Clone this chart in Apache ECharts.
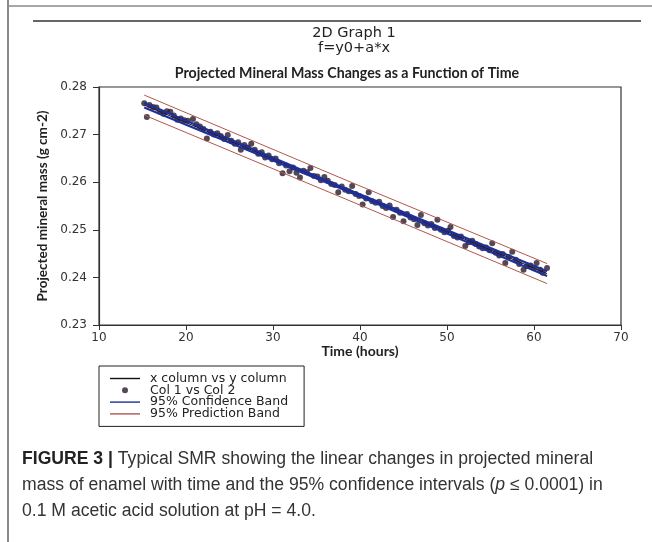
<!DOCTYPE html>
<html>
<head>
<meta charset="utf-8">
<script src="https://cdn.jsdelivr.net/npm/echarts@6/dist/echarts.min.js"></script>
<style>
  html, body { margin: 0; padding: 0; background: #fff; }
  #chart { width: 652px; height: 542px; }
</style>
</head>
<body>
<div id="chart"></div>
<script>
// measured points (time in hours, projected mineral mass g cm-2)
const timeHours = [
  15.2, 15.5, 15.8, 16.2, 16.6, 17.0, 17.4, 17.8, 18.2, 18.6, 19.0, 19.4, 19.8, 20.2, 20.8,
  21.2, 21.6, 22.0, 22.4, 22.8, 23.2, 23.6, 24.0, 24.4, 24.8, 25.2, 25.6, 26.0, 26.3, 26.7,
  27.1, 27.5, 27.9, 28.3, 28.7, 29.1, 29.5, 29.9, 30.3, 30.7, 31.1, 31.5, 31.9, 32.3, 32.7,
  33.1, 33.5, 33.9, 34.3, 34.7, 35.1, 35.5, 35.9, 36.3, 36.7, 37.1, 37.5, 37.9, 38.3, 38.7,
  39.1, 39.5, 39.9, 40.3, 40.7, 41.0, 41.4, 41.8, 42.2, 42.6, 43.0, 43.4, 43.8, 44.2, 44.6,
  45.0, 45.4, 45.8, 46.2, 46.6, 47.0, 47.4, 47.8, 48.2, 48.6, 48.9, 49.3, 49.7, 50.1, 50.4,
  50.8, 51.2, 51.6, 52.1, 52.5, 52.9, 53.3, 53.7, 54.1, 54.5, 54.9, 55.2, 55.6, 56.0, 56.4,
  56.7, 57.1, 57.5, 57.9, 58.3, 58.8, 59.2, 59.6, 60.0, 60.3, 60.7, 61.0, 61.5
];
const mineralMass = [
  0.2766, 0.2737, 0.2762, 0.2758, 0.2757, 0.2748, 0.2744, 0.2749, 0.2748, 0.2740, 0.2731, 0.2734, 0.2730, 0.2729, 0.2733,
  0.2722, 0.2717, 0.2712, 0.2692, 0.2706, 0.2700, 0.2703, 0.2697, 0.2691, 0.2699, 0.2687, 0.2681, 0.2684, 0.2668, 0.2678,
  0.2673, 0.2681, 0.2668, 0.2660, 0.2663, 0.2652, 0.2656, 0.2648, 0.2650, 0.2640, 0.2619, 0.2635, 0.2623, 0.2631, 0.2620,
  0.2610, 0.2624, 0.2621, 0.2630, 0.2613, 0.2612, 0.2604, 0.2611, 0.2603, 0.2596, 0.2594, 0.2579, 0.2591, 0.2584, 0.2581,
  0.2592, 0.2575, 0.2571, 0.2553, 0.2566, 0.2579, 0.2560, 0.2557, 0.2559, 0.2550, 0.2546, 0.2551, 0.2527, 0.2542, 0.2536,
  0.2518, 0.2533, 0.2526, 0.2522, 0.2510, 0.2531, 0.2514, 0.2509, 0.2512, 0.2504, 0.2521, 0.2500, 0.2495, 0.2498, 0.2506,
  0.2487, 0.2484, 0.2486, 0.2466, 0.2474, 0.2477, 0.2470, 0.2465, 0.2461, 0.2463, 0.2457, 0.2472, 0.2452, 0.2446, 0.2449,
  0.2430, 0.2443, 0.2454, 0.2437, 0.2428, 0.2416, 0.2424, 0.2425, 0.2419, 0.2430, 0.2416, 0.2410, 0.2420
];

// fitted line f=y0+a*x and bands, read at start / middle / end
const fitX = [15.2, 61.5];
const fitY = [0.2762, 0.2408];
const bandX = [15.2, 38.3, 61.5];
const confUpper = [0.2767, 0.2587, 0.2413];
const confLower = [0.2757, 0.2583, 0.2403];
const predUpper = [0.2783, 0.2605, 0.2429];
const predLower = [0.2741, 0.2565, 0.2387];

// axis ticks
const xTicks = [10, 20, 30, 40, 50, 60, 70];
const yTicks = [0.23, 0.24, 0.25, 0.26, 0.27, 0.28];

const pair = (xs, ys) => xs.map((x, i) => [x, ys[i]]);

const legendNames = ['x column vs y column', 'Col 1 vs Col 2', '95% Confidence Band', '95% Prediction Band'];
// thin bar used as legend icon for the line series
const lineIcon = 'path://M0,0 L30,0 L30,1.4 L0,1.4 Z';

const myChart = echarts.init(document.getElementById('chart'));

const bandLine = (name, data, color, width, z) => ({
  name: name,
  type: 'line',
  data: data,
  symbol: 'none',
  lineStyle: { color: color, width: width },
  itemStyle: { color: color },
  z: z,
  silent: true,
});

const option = {
  animation: false,
  backgroundColor: '#fff',
  title: [
    {
      text: '2D Graph 1',
      left: 354, top: 25, textAlign: 'center', padding: 0,
      textStyle: { fontFamily: 'DejaVu Sans', fontSize: 14.5, fontWeight: 'normal', color: '#222', lineHeight: 16 },
    },
    {
      text: 'f=y0+a*x',
      left: 354, top: 40, textAlign: 'center', padding: 0,
      textStyle: { fontFamily: 'DejaVu Sans', fontSize: 14.5, fontWeight: 'normal', color: '#222', lineHeight: 16 },
    },
    {
      text: 'Projected Mineral Mass Changes as a Function of Time',
      left: 347, top: 65, textAlign: 'center', padding: 0,
      textStyle: { fontFamily: 'Lato', fontSize: 14.2, fontWeight: 'bold', color: '#222', lineHeight: 16 },
    },
    {
      text: '{b|FIGURE 3 |} Typical SMR showing the linear changes in projected mineral\n'
        + 'mass of enamel with time and the 95% confidence intervals ({i|p} ≤ 0.0001) in\n'
        + '0.1 M acetic acid solution at pH = 4.0.',
      left: 22, top: 446, padding: 0,
      textStyle: {
        fontFamily: 'Liberation Sans', fontSize: 17.6, fontWeight: 'normal', color: '#333', lineHeight: 26,
        rich: {
          b: { fontFamily: 'Liberation Sans', fontSize: 17.6, fontWeight: 'bold', color: '#222', lineHeight: 26 },
          i: { fontFamily: 'Liberation Sans', fontSize: 17.6, fontStyle: 'italic', color: '#333', lineHeight: 26 },
        },
      },
    },
  ],
  legend: {
    data: legendNames.map((n) => ({ name: n, icon: n === 'Col 1 vs Col 2' ? 'circle' : lineIcon })),
    orient: 'vertical',
    left: 99,
    top: 366,
    padding: [6, 16, 6, 11],
    itemWidth: 30,
    itemHeight: 6,
    itemGap: -1.2,
    borderColor: '#222',
    borderWidth: 1,
    borderRadius: 0,
    selectedMode: false,
    textStyle: { fontFamily: 'DejaVu Sans', fontSize: 12.5, color: '#222', padding: [0, 0, 0, 5] },
  },
  grid: { left: 99, right: 31, top: 87, bottom: 217, show: true, borderColor: '#333', borderWidth: 1.2 },
  xAxis: {
    type: 'value',
    min: xTicks[0],
    max: xTicks[xTicks.length - 1],
    interval: 10,
    name: 'Time (hours)',
    nameLocation: 'middle',
    nameGap: 18,
    nameTextStyle: { fontFamily: 'Lato', fontSize: 14, fontWeight: 'bold', color: '#222' },
    axisLine: { onZero: false, lineStyle: { color: '#333', width: 1.2 } },
    axisTick: { inside: false, length: 5, lineStyle: { color: '#333' } },
    axisLabel: { fontFamily: 'DejaVu Sans', fontSize: 12, color: '#333', margin: 7 },
    splitLine: { show: false },
  },
  yAxis: {
    type: 'value',
    min: yTicks[0],
    max: yTicks[yTicks.length - 1],
    interval: 0.01,
    name: 'Projected mineral mass (g cm-2)',
    nameLocation: 'middle',
    nameGap: 48,
    nameTextStyle: { fontFamily: 'Lato', fontSize: 13.5, fontWeight: 'bold', color: '#222' },
    axisLine: { onZero: false, lineStyle: { color: '#333', width: 1.2 } },
    axisTick: { inside: false, length: 6, lineStyle: { color: '#333' } },
    axisLabel: { fontFamily: 'DejaVu Sans', fontSize: 12, color: '#333', margin: 12, formatter: (v) => v.toFixed(2) },
    splitLine: { show: false },
  },
  graphic: [
    { type: 'line', shape: { x1: 8, y1: 0, x2: 8, y2: 542 }, style: { stroke: '#8a8a8a', lineWidth: 2 }, silent: true },
    { type: 'line', shape: { x1: 8, y1: 6, x2: 652, y2: 6 }, style: { stroke: '#8a8a8a', lineWidth: 1.5 }, silent: true },
    { type: 'line', shape: { x1: 33, y1: 21, x2: 641, y2: 21 }, style: { stroke: '#333', lineWidth: 1.5 }, silent: true },
  ],
  series: [
    bandLine('x column vs y column', pair(fitX, fitY), '#111', 1, 2),
    {
      name: 'Col 1 vs Col 2',
      type: 'scatter',
      data: pair(timeHours, mineralMass),
      symbol: 'circle',
      symbolSize: 6,
      itemStyle: { color: '#2b1a2a' },
      z: 3,
      silent: true,
    },
    bandLine('95% Confidence Band', pair(bandX, confUpper), '#1f2f9a', 2.2, 4),
    bandLine('95% Confidence Band', pair(bandX, confLower), '#1f2f9a', 2.2, 4),
    bandLine('95% Prediction Band', pair(bandX, predUpper), '#b0574e', 1, 4),
    bandLine('95% Prediction Band', pair(bandX, predLower), '#b0574e', 1, 4),
  ],
};

myChart.setOption(option);
</script>
</body>
</html>
